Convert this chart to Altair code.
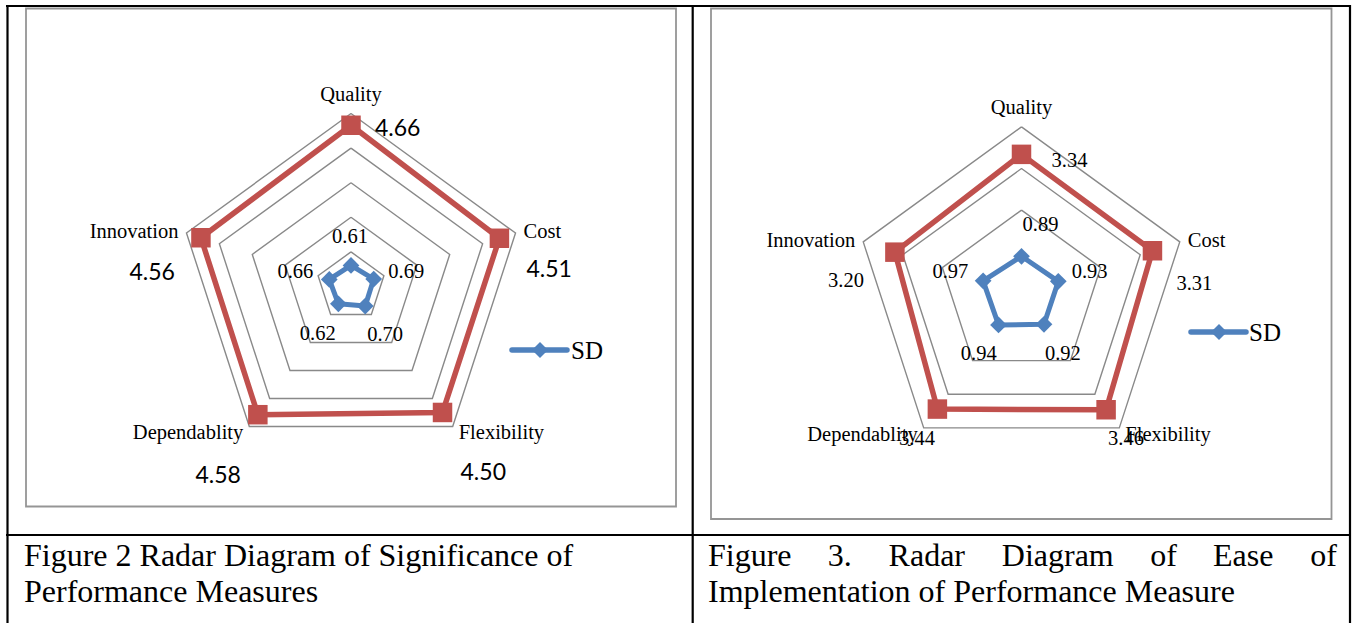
import math
import altair as alt
import pandas as pd

W, H = 1353, 623

# ---------------- data ----------------
categories = ["Quality", "Cost", "Flexibility", "Dependablity", "Innovation"]
fig2_mean = [4.66, 4.51, 4.50, 4.58, 4.56]
fig2_sd = [0.61, 0.69, 0.70, 0.62, 0.66]
fig3_mean = [3.34, 3.31, 3.46, 3.44, 3.20]
fig3_sd = [0.89, 0.93, 0.92, 0.94, 0.97]
fig2_rings = [1, 2, 3, 4, 5]
fig3_rings = [2, 3, 4]
caption2_lines = ["Figure 2 Radar Diagram of Significance of", "Performance Measures"]
caption3_words = ["Figure", "3.", "Radar", "Diagram", "of", "Ease", "of"]
caption3_line2 = "Implementation of Performance Measure"
legend_label = "SD"

# ---------------- styles / layout ----------------
RED = "#C0504D"
BLUE = "#4F81BD"
GRID = "#898989"
SERIF = "Liberation Serif"

panels = {
    "fig2": dict(cx=351.0, cy=286.5, unit=34.6, rmax=5, rings=fig2_rings,
                 mean=fig2_mean, sd=fig2_sd,
                 mean_font="Lato", mean_size=23,
                 mean_off=[(24, 11, "left"), (27, 39, "left"), (18, 67.5, "left"),
                           (-17, 68.5, "right"), (-26, 42, "right")],
                 sd_off=[(-1, -22, "center"), (14.6, -0.8, "left"), (2, 35, "left"),
                         (-2.7, 36.6, "right"), (-16, -1, "right")],
                 legend=(512, 567, 540, 350, 571)),
    "fig3": dict(cx=1021.5, cy=293.3, unit=41.6, rmax=4, rings=fig3_rings,
                 mean=fig3_mean, sd=fig3_sd,
                 mean_font=SERIF, mean_size=20.5,
                 mean_off=[(30, 13, "left"), (24, 39, "left"), (2, 35, "left"),
                           (-2.4, 36, "right"), (-31, 34.5, "right")],
                 sd_off=[(1, -25.6, "left"), (13.4, -3, "left"), (1, 35.7, "left"),
                         (-1.8, 35, "right"), (-14.8, -2.5, "right")],
                 legend=(1191, 1246, 1219, 332, 1249)),
}
cat_off = [(0, -13, "center"), (8, 5, "left"), (6, 13, "left"), (-6, 13, "right"), (-8, 5, "right")]
caption3_x = [708, 827.8, 888.6, 1001.8, 1150.3, 1213, 1310.3]


def radar_xy(p, k, r):
    ang = math.radians(72 * (k % 5))
    return p["cx"] + r * p["unit"] * math.sin(ang), p["cy"] - r * p["unit"] * math.cos(ang)


ring_rows, mean_rows, sd_rows, texts = [], [], [], []
for name, p in panels.items():
    for ring in p["rings"]:
        for k in range(6):
            x, y = radar_xy(p, k, ring)
            ring_rows.append(dict(grp=f"{name}-{ring}", order=k, x=x, y=y))
    for series, vals, rows in (("mean", p["mean"], mean_rows), ("sd", p["sd"], sd_rows)):
        for k in range(6):
            x, y = radar_xy(p, k, vals[k % 5])
            rows.append(dict(grp=f"{name}-{series}", order=k, x=x, y=y, pt=k < 5))
    for k, cat in enumerate(categories):
        x, y = radar_xy(p, k, p["rmax"])
        dx, dy, al = cat_off[k]
        texts.append(dict(text=cat, x=x + dx, y=y + dy, align=al, font=SERIF, size=20.5))
        x, y = radar_xy(p, k, p["mean"][k])
        dx, dy, al = p["mean_off"][k]
        texts.append(dict(text=f"{p['mean'][k]:.2f}", x=x + dx, y=y + dy, align=al,
                          font=p["mean_font"], size=p["mean_size"]))
        x, y = radar_xy(p, k, p["sd"][k])
        dx, dy, al = p["sd_off"][k]
        texts.append(dict(text=f"{p['sd'][k]:.2f}", x=x + dx, y=y + dy, align=al, font=SERIF, size=20.5))
    lx1, lx2, ldx, ly, ltx = p["legend"]
    texts.append(dict(text=legend_label, x=ltx, y=ly + 8.5, align="left", font=SERIF, size=25))

# captions
for i, line in enumerate(caption2_lines):
    texts.append(dict(text=line, x=24, y=565.5 + 36 * i, align="left", font=SERIF, size=32))
for w, x in zip(caption3_words, caption3_x):
    texts.append(dict(text=w, x=x, y=565.5, align="left", font=SERIF, size=32))
texts.append(dict(text=caption3_line2, x=708, y=601.5, align="left", font=SERIF, size=32))

rings_df = pd.DataFrame(ring_rows)
mean_df = pd.DataFrame(mean_rows)
sd_df = pd.DataFrame(sd_rows)
text_df = pd.DataFrame(texts)

xs = alt.Scale(domain=[0, W], nice=False, zero=False)
ys = alt.Scale(domain=[0, H], nice=False, zero=False, reverse=True)
X = alt.X("x:Q", scale=xs, axis=None)
Y = alt.Y("y:Q", scale=ys, axis=None)

layers = []

# chart-area frames
for (x1, x2, y1, y2) in [(26, 676, 8.5, 506.5), (711, 1331.5, 8.5, 519)]:
    layers.append(alt.Chart(pd.DataFrame([{"a": 1}])).mark_rect(
        fill=None, stroke="#959595", strokeWidth=1.8).encode(
        x=alt.value(x1), x2=alt.value(x2), y=alt.value(y1), y2=alt.value(y2)))

# table lines
table_lines = [
    (6, 1351, 6, 6), (6, 1351, 535, 535),
    (7.5, 7.5, 5, 623), (692.7, 692.7, 5, 623), (1350, 1350, 5, 623),
]
for (x1, x2, y1, y2) in table_lines:
    layers.append(alt.Chart(pd.DataFrame([{"a": 1}])).mark_rule(
        color="black", strokeWidth=2.2).encode(
        x=alt.value(x1), x2=alt.value(x2), y=alt.value(y1), y2=alt.value(y2)))

# rings
layers.append(alt.Chart(rings_df).mark_line(color=GRID, strokeWidth=1.4).encode(
    x=X, y=Y, detail="grp:N", order="order:Q"))

# mean series
layers.append(alt.Chart(mean_df).mark_line(color=RED, strokeWidth=5.5, strokeJoin="round").encode(
    x=X, y=Y, detail="grp:N", order="order:Q"))
layers.append(alt.Chart(mean_df).transform_filter("datum.pt").mark_point(
    shape="square", filled=True, size=380, color=RED, opacity=1).encode(x=X, y=Y))

# SD series
layers.append(alt.Chart(sd_df).mark_line(color=BLUE, strokeWidth=5, strokeJoin="round").encode(
    x=X, y=Y, detail="grp:N", order="order:Q"))
layers.append(alt.Chart(sd_df).transform_filter("datum.pt").mark_point(
    shape="diamond", filled=True, size=280, color=BLUE, opacity=1).encode(x=X, y=Y))

# legends
for name, p in panels.items():
    lx1, lx2, ldx, ly, ltx = p["legend"]
    layers.append(alt.Chart(pd.DataFrame([{"a": 1}])).mark_rule(
        color=BLUE, strokeWidth=5.5, strokeCap="round").encode(
        x=alt.value(lx1), x2=alt.value(lx2), y=alt.value(ly)))
    layers.append(alt.Chart(pd.DataFrame([{"a": 1}])).mark_point(
        shape="diamond", filled=True, size=260, color=BLUE, opacity=1).encode(
        x=alt.value(ldx), y=alt.value(ly)))

# texts (grouped by font, size, align)
for (font, size, al), sub in text_df.groupby(["font", "size", "align"]):
    layers.append(alt.Chart(sub.reset_index(drop=True)).mark_text(
        font=font, fontSize=float(size), align=al, baseline="alphabetic", color="black").encode(
        x=X, y=Y, text="text:N"))

chart = alt.layer(*layers).properties(
    width=W, height=H, autosize=alt.AutoSizeParams(type="none"), padding=0,
    background="white"
).configure_view(stroke=None)

chart.save("out.html", embed_options={"renderer": "svg", "actions": False})
